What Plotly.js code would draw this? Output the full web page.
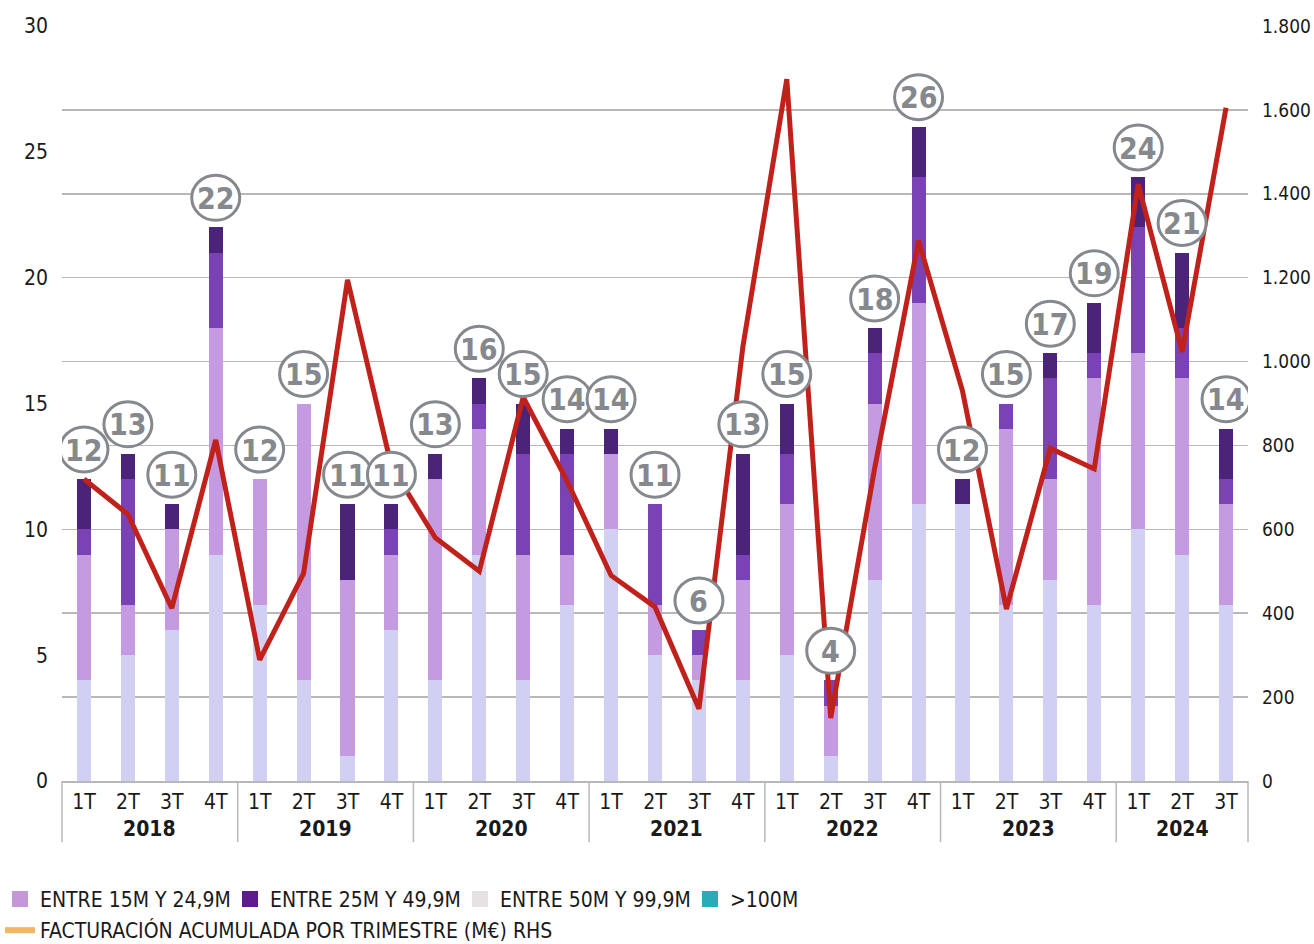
<!DOCTYPE html>
<html>
<head>
<meta charset="utf-8">
<script src="https://cdn.plot.ly/plotly-3.0.1.min.js"></script>
<style>
  html, body { margin: 0; padding: 0; background: #ffffff; }
  #chart { width: 1314px; height: 944px; }
  svg text { font-stretch: condensed !important; }
</style>
</head>
<body>
<div id="chart"></div>
<script>
// ---------------- DATA ----------------
const barYears = ['2018','2018','2018','2018','2019','2019','2019','2019','2020','2020','2020','2020',
                  '2021','2021','2021','2021','2022','2022','2022','2022','2023','2023','2023','2023',
                  '2024','2024','2024'];
const barQuarters = ['1T','2T','3T','4T','1T','2T','3T','4T','1T','2T','3T','4T',
                     '1T','2T','3T','4T','1T','2T','3T','4T','1T','2T','3T','4T',
                     '1T','2T','3T'];

const seriesNames = ['ENTRE 15M Y 24,9M', 'ENTRE 25M Y 49,9M', 'ENTRE 50M Y 99,9M', '>100M'];
// stacked segments, bottom to top
const segment1 = [4,5,6,9, 7,4,1,6, 4,9,4,7, 10,5,4,4, 5,1,8,11, 11,7,8,7, 10,9,7];
const segment2 = [5,2,4,9, 5,11,7,3, 8,5,5,2, 3,2,1,4, 6,2,7,8, 0,7,4,9, 7,7,4];
const segment3 = [1,5,0,3, 0,0,0,1, 0,1,4,4, 0,4,1,1, 2,1,2,5, 0,1,4,1, 5,2,1];
const segment4 = [2,1,1,1, 0,0,3,1, 1,1,2,1, 1,0,0,4, 2,0,1,2, 1,0,1,2, 2,3,2];

const lineName = 'FACTURACIÓN ACUMULADA POR TRIMESTRE (M€) RHS';
const facturacion = [720,636,412,813, 289,495,1195,750, 580,500,915,715,
                     490,415,172,1035, 1673,150,745,1288, 930,410,793,744,
                     1423,1023,1605];

// ---------------- STYLE ----------------
const FONT = '"DejaVu Sans Condensed", "DejaVu Sans", sans-serif';
const barColors = ['#d2d0f2', '#c49ae0', '#7b42b3', '#4b2378'];
const legendColors = ['#c497d8', '#5e1a8e', '#e6e2e4', '#2aabb9'];
const lineColor = '#c0221b';
const legendLineColor = '#f2b560';
const gridColor = '#b8b8b8';
const labelGrey = '#85888d';
const textColor = '#1a1a1a';

// ---------------- BUILD ----------------
const cats = barYears.map((y, i) => y + ' ' + barQuarters[i]);
const segments = [segment1, segment2, segment3, segment4];
const totals = cats.map((c, i) => segments.reduce((s, arr) => s + arr[i], 0));

const traces = [];
segments.forEach((seg, k) => {
  traces.push({
    type: 'bar', x: cats, y: seg, name: seriesNames[k],
    marker: { color: barColors[k], line: { width: 0 } },
    showlegend: false, hoverinfo: 'skip', yaxis: 'y'
  });
});
traces.push({
  type: 'scatter', mode: 'lines', x: cats, y: facturacion, name: lineName,
  line: { color: lineColor, width: 5, shape: 'linear' },
  yaxis: 'y2', showlegend: false, hoverinfo: 'skip'
});
// legend entries
seriesNames.forEach((n, k) => {
  traces.push({
    type: 'scatter', mode: 'markers', x: [cats[0]], y: [null], name: n,
    marker: { symbol: 'square', size: 16, color: legendColors[k] },
    legend: 'legend', showlegend: true, hoverinfo: 'skip'
  });
});
traces.push({
  type: 'scatter', mode: 'lines', x: [cats[0]], y: [null], name: lineName,
  line: { color: legendLineColor, width: 6 }, yaxis: 'y2',
  legend: 'legend2', showlegend: true, hoverinfo: 'skip'
});

// shapes: bubbles + dividers
const shapes = [];
const annotations = [];
cats.forEach((c, i) => {
  shapes.push({
    type: 'circle', layer: 'above', xref: 'x', yref: 'y',
    xsizemode: 'pixel', ysizemode: 'pixel', xanchor: c, yanchor: totals[i],
    x0: -24, x1: 24, y0: 7, y1: 52,
    fillcolor: '#ffffff', line: { color: labelGrey, width: 3 }
  });
  annotations.push({
    xref: 'x', yref: 'y', x: c, y: totals[i], yshift: 29,
    text: '<b>' + totals[i] + '</b>', showarrow: false,
    xanchor: 'center', yanchor: 'middle',
    font: { family: FONT, size: 30, color: labelGrey }
  });
});
const DIV_BOTTOM = -0.081;
shapes.push({ type: 'line', xref: 'paper', yref: 'paper', x0: 0, x1: 0, y0: 0, y1: DIV_BOTTOM,
              line: { color: gridColor, width: 1.5 } });
shapes.push({ type: 'line', xref: 'paper', yref: 'paper', x0: 1, x1: 1, y0: 0, y1: DIV_BOTTOM,
              line: { color: gridColor, width: 1.5 } });
// year groups
const groups = [];
barYears.forEach((y, i) => {
  if (i === 0 || y !== barYears[i - 1]) groups.push({ year: y, start: i, end: i });
  else groups[groups.length - 1].end = i;
});
groups.forEach((g, gi) => {
  if (gi > 0) {
    shapes.push({ type: 'line', xref: 'x', yref: 'paper', x0: g.start - 0.5, x1: g.start - 0.5,
                  y0: 0, y1: DIV_BOTTOM, line: { color: gridColor, width: 1.5 } });
  }
  annotations.push({
    xref: 'x', yref: 'paper', x: (g.start + g.end) / 2, y: -0.064,
    text: '<b>' + g.year + '</b>', showarrow: false, xanchor: 'center', yanchor: 'middle',
    font: { family: FONT, size: 21, color: textColor }
  });
});

const layout = {
  width: 1314, height: 944,
  margin: { l: 62, r: 66, t: 26, b: 163, pad: 0 },
  paper_bgcolor: '#ffffff', plot_bgcolor: '#ffffff',
  separators: ',.',
  barmode: 'stack', bargap: 0.68,
  font: { family: FONT, size: 21, color: textColor },
  showlegend: true,
  xaxis: {
    type: 'category', categoryorder: 'array', categoryarray: cats,
    tickmode: 'array', tickvals: cats, ticktext: barQuarters,
    range: [-0.5, cats.length - 0.5], fixedrange: true,
    showgrid: false, zeroline: false, showline: true, linecolor: gridColor, linewidth: 1.5,
    ticks: '', ticklabelstandoff: 1,
    tickfont: { family: FONT, size: 21, color: textColor }
  },
  yaxis: {
    range: [0, 30], dtick: 5, tick0: 0, showgrid: false, zeroline: false, showline: false,
    ticks: '', ticklabelstandoff: 13,
    tickfont: { family: FONT, size: 21, color: textColor }
  },
  yaxis2: {
    overlaying: 'y', side: 'right', range: [0, 1800], dtick: 200, tick0: 0,
    tickformat: ',d', showgrid: true, gridcolor: gridColor, gridwidth: 1.5,
    zeroline: false, showline: false, ticks: '', ticklabelstandoff: 13,
    tickfont: { family: FONT, size: 19, color: textColor }
  },
  legend: {
    orientation: 'h', xref: 'container', yref: 'container', x: 0, y: 0.069,
    xanchor: 'left', yanchor: 'top', itemsizing: 'trace', entrywidth: 185,
    traceorder: 'normal',
    font: { family: FONT, size: 21, color: textColor }, bgcolor: 'rgba(0,0,0,0)',
    itemclick: false, itemdoubleclick: false
  },
  legend2: {
    orientation: 'h', xref: 'container', yref: 'container', x: 0, y: 0.036,
    xanchor: 'left', yanchor: 'top', itemsizing: 'trace', traceorder: 'normal',
    font: { family: FONT, size: 21, color: textColor }, bgcolor: 'rgba(0,0,0,0)',
    itemclick: false, itemdoubleclick: false
  },
  shapes: shapes,
  annotations: annotations
};

Plotly.newPlot('chart', traces, layout, { displayModeBar: false, staticPlot: true });
</script>
</body>
</html>
